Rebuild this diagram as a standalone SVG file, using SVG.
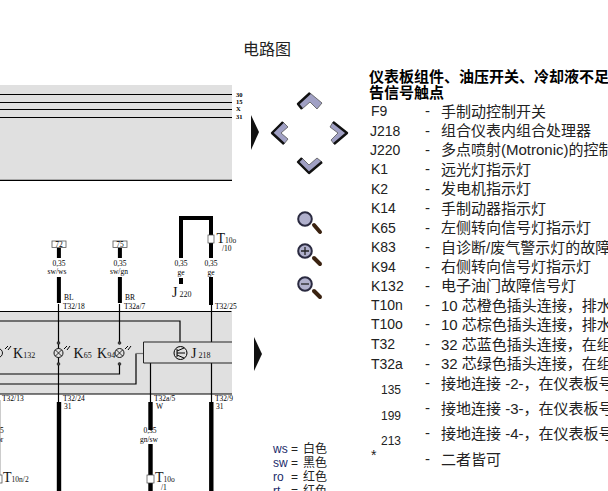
<svg xmlns="http://www.w3.org/2000/svg" width="608" height="491" viewBox="0 0 608 491">
<style>
.s{font-family:"Liberation Serif",serif;fill:#000;font-size:7.5px}
.r{font-family:"Liberation Serif",serif;fill:#000;font-size:6.5px;font-weight:700}
.b{font-family:"Liberation Serif",serif;fill:#111;font-size:14px}
.t{font-family:"Liberation Sans","Noto Sans CJK SC",sans-serif;font-size:15px;fill:#222}
.l{font-size:14px}
.n{font-size:12px}
.h{font-family:"Liberation Sans","Noto Sans CJK SC",sans-serif;font-size:15px;fill:#000;font-weight:700}
.w{stroke:#000;fill:none;stroke-width:1.200}
.w2{stroke:#000;fill:none;stroke-width:4}
.nav{fill:#a0a0c4;stroke:#555;stroke-width:.8}
.edge{fill:none;stroke:#111;stroke-width:2.400;stroke-linejoin:round}
.lens{fill:#b0b0cc;stroke:#2a2a40;stroke-width:2}
.hd{stroke:#3a2210;stroke-width:4;stroke-linecap:round}
.bulb{fill:#e0e0e0;stroke:#000;stroke-width:.9}
.dot{fill:#444;stroke:#000;stroke-width:.5}
</style>
<text x="243" y="55" font-family="'Liberation Sans','Noto Sans CJK SC',sans-serif" font-size="16" fill="#222">电路图</text>
<g id="panel-top">
<rect x="0" y="85" width="232" height="95" fill="#e0e0e0"/>
<path class="w" d="M0 94.500H232M0 102.500H232M0 109.500H232M0 117.500H232M0 180.300H232"/>
<text class="r" x="236" y="96.500">30</text><text class="r" x="236" y="103.500">15</text><text class="r" x="236" y="110.500">X</text><text class="r" x="236" y="119">31</text>
</g>
<g id="panel-mid"><rect x="0" y="312" width="232" height="82" fill="#e0e0e0"/></g>
<g id="connectors">
<path class="w" d="M0 311.500H231.500M0 321H180V342M0 374H119.500V364M0 384H136V353.500M0 394H232M58.500 304V402M119.500 304V343M211.500 304V342M150.500 363V402M211.500 363V402"/>
<path d="M143.500 353.500H136" stroke="#777" stroke-width="1.200"/>
<path d="M0.500 400V476" stroke="#ccc" stroke-width="1"/>
<path class="w2" d="M58.900 248V258M58.900 277V303M119.900 248V258M119.900 277V303M181 284V278M181 258V218H211V235M211 243V258M211 277V305"/>
<path class="w2" style="stroke-width:4.400" d="M59 402V491M150.500 402V430M150.500 444V491M211.300 402V491"/>
</g>
<g id="term-72"><rect x="52" y="241" width="14" height="6.500" fill="#fff" stroke="#555" stroke-width=".8"/><text class="s" x="59" y="247" text-anchor="middle">72</text></g>
<g id="term-75"><rect x="113" y="241" width="14" height="6.500" fill="#fff" stroke="#555" stroke-width=".8"/><text class="s" x="120" y="247" text-anchor="middle">75</text></g>
<g id="wire-labels">
<text class="s" x="59" y="266" text-anchor="middle">0,35</text><text class="s" x="57" y="274" text-anchor="middle">sw/ws</text>
<text class="s" x="120" y="266" text-anchor="middle">0,35</text><text class="s" x="119" y="274" text-anchor="middle">sw/gn</text>
<text class="s" x="181" y="266" text-anchor="middle">0,35</text><text class="s" x="181" y="275" text-anchor="middle">ge</text>
<text class="s" x="211" y="266" text-anchor="middle">0,35</text><text class="s" x="211" y="275" text-anchor="middle">ge</text>
<text class="s" x="64" y="300">BL</text><text class="s" x="63" y="309">T32/18</text>
<text class="s" x="125" y="300">BR</text><text class="s" x="124" y="309">T32a/7</text>
<text class="s" x="215" y="309">T32/25</text>
<text class="s" x="2" y="401">T32/13</text>
<text class="s" x="63" y="401">T32/24</text><text class="s" x="64" y="409">31</text>
<text class="s" x="154" y="401">T32a/5</text><text class="s" x="156" y="409">W</text>
<text class="s" x="215" y="401">T32/9</text><text class="s" x="216" y="409">31</text>
<text class="s" x="150" y="433" text-anchor="middle">0,35</text><text class="s" x="149" y="442" text-anchor="middle">gn/sw</text>
<text class="s" x="0" y="433">5</text><text class="s" x="-3" y="442">or</text>
</g>
<g id="T10o-10"><rect x="208" y="235" width="6" height="8" fill="#fff" stroke="#444" stroke-width=".7"/><text class="b" x="216.500" y="243">T<tspan font-size="7.500">10o</tspan></text><text class="s" x="222" y="251">/10</text></g>
<g id="T10n-2"><rect x="-3" y="475" width="5" height="8" fill="#fff" stroke="#444" stroke-width=".7"/><text class="b" x="3" y="482">T<tspan font-size="7.500">10n/2</tspan></text></g>
<g id="T10o-1"><rect x="147" y="475" width="7" height="8" fill="#fff" stroke="#444" stroke-width=".7"/><text class="b" x="155" y="482">T<tspan font-size="7.500">10o</tspan></text><text class="s" x="161" y="490">/1</text></g>
<g id="J220"><text class="b" x="172" y="297">J<tspan font-size="8"> 220</tspan></text></g>
<g id="K132"><circle class="bulb" cx="-2" cy="353" r="4.500"/><path d="M5 349l3-3M8 350l3-4" stroke="#000" stroke-width="1"/><text class="b" x="13" y="358">K<tspan font-size="8">132</tspan></text></g>
<g id="K65"><circle class="bulb" cx="58.500" cy="353" r="4.500"/><path d="M55.300 349.800L61.700 356.200M61.700 349.800L55.300 356.200" stroke="#000" stroke-width=".8"/><circle class="dot" cx="58.500" cy="343" r="1.400"/><circle class="dot" cx="58.500" cy="364" r="1.400"/><path d="M64 349l3-3M67 350l3-4" stroke="#000" stroke-width="1"/><text class="b" x="73.500" y="358">K<tspan font-size="8">65</tspan></text></g>
<g id="K94"><circle class="bulb" cx="119.500" cy="353" r="4.500"/><path d="M116.300 349.800L122.700 356.200M122.700 349.800L116.300 356.200" stroke="#000" stroke-width=".8"/><circle class="dot" cx="119.500" cy="343" r="1.400"/><circle class="dot" cx="119.500" cy="364" r="1.400"/><path d="M125 349l3-3M128 350l3-4" stroke="#000" stroke-width="1"/><text class="b" x="97" y="358">K<tspan font-size="8">94</tspan></text></g>
<g id="J218"><path d="M232 342H143.500V363H232" fill="none" stroke="#222" stroke-width="1"/><circle cx="180.500" cy="353" r="6.500" fill="none" stroke="#000"/><path d="M177 349V357M177 353H185M177 351L184 348M177 355L184 358" stroke="#000" stroke-width="1" fill="none"/><text class="b" x="191" y="358">J<tspan font-size="8"> 218</tspan></text></g>
<g id="arrow-1"><path d="M251 115L259 132L251 150Z" fill="#111"/></g>
<g id="arrow-2"><path d="M254 337L262 354L254 371Z" fill="#111"/></g>
<g id="nav-up"><path class="nav" d="M298 104L310 93L322 103L317 109L310 102L302 109Z"/><path class="edge" d="M302 109L298 104L310 93"/></g>
<g id="nav-left"><path class="nav" d="M283 122L272 133L284 144L288 139L281 133L288 127Z"/><path class="edge" d="M283 122L272 133L284 144"/></g>
<g id="nav-right"><path class="nav" d="M333 122L347 133L334 144L331 140L338 133L330 127Z"/><path class="edge" d="M333 122L347 133L334 144"/></g>
<g id="nav-down"><path class="nav" d="M298 162L309 173L322 162L317 158L309 165L302 158Z"/><path class="edge" d="M302 158L298 162L309 173L322 162"/></g>
<g id="zoom"><line class="hd" x1="314" y1="225" x2="320" y2="232"/><circle class="lens" cx="305" cy="219" r="6.800"/></g>
<g id="zoom-in"><line class="hd" x1="314" y1="258" x2="320" y2="264"/><circle class="lens" cx="305" cy="251" r="6.800"/><path d="M301 251H309M305 247V255" stroke="#222" stroke-width="1.300"/></g>
<g id="zoom-out"><line class="hd" x1="314" y1="291" x2="320" y2="297"/><circle class="lens" cx="305" cy="284" r="6.800"/><path d="M301 284H309" stroke="#222" stroke-width="1.300"/></g>
<g id="legend-colors" font-family="'Liberation Sans','Noto Sans CJK SC',sans-serif" font-size="12" fill="#222">
<text x="273" y="453" fill="#1a2a6a">ws</text><text x="291" y="453">=</text><text x="303" y="453">白色</text>
<text x="273" y="467" fill="#1a2a6a">sw</text><text x="291" y="467">=</text><text x="303" y="467">黑色</text>
<text x="273" y="481" fill="#1a2a6a">ro</text><text x="291" y="481">=</text><text x="303" y="481">红色</text>
<text x="273" y="495" fill="#1a2a6a">rt</text><text x="291" y="495">=</text><text x="303" y="495">红色</text>
</g>
<g id="legend">
<text class="h" x="369" y="82">仪表板组件、油压开关、冷却液不足</text>
<text class="h" x="369" y="98">告信号触点</text>
<g class="t">
<text class="l" x="371" y="116">F9</text><text x="425" y="116">-</text><text x="441" y="117">手制动控制开关</text>
<text class="l" x="370" y="136">J218</text><text x="425" y="136">-</text><text x="441" y="136">组合仪表内组合处理器</text>
<text class="l" x="370" y="155">J220</text><text x="425" y="155">-</text><text x="441" y="155">多点喷射(Motronic)的控制</text>
<text class="l" x="371" y="174">K1</text><text x="425" y="174">-</text><text x="441" y="175">远光灯指示灯</text>
<text class="l" x="371" y="194">K2</text><text x="425" y="194">-</text><text x="441" y="194">发电机指示灯</text>
<text class="l" x="371" y="213">K14</text><text x="425" y="213">-</text><text x="441" y="214">手制动器指示灯</text>
<text class="l" x="371" y="233">K65</text><text x="425" y="233">-</text><text x="441" y="233">左侧转向信号灯指示灯</text>
<text class="l" x="371" y="252">K83</text><text x="425" y="252">-</text><text x="441" y="253">自诊断/废气警示灯的故障</text>
<text class="l" x="371" y="272">K94</text><text x="425" y="272">-</text><text x="441" y="272">右侧转向信号灯指示灯</text>
<text class="l" x="371" y="291">K132</text><text x="425" y="291">-</text><text x="441" y="291">电子油门故障信号灯</text>
<text class="l" x="371" y="310">T10n</text><text x="425" y="310">-</text><text x="441" y="311">10 芯橙色插头连接，排水</text>
<text class="l" x="371" y="329">T10o</text><text x="425" y="329">-</text><text x="441" y="330">10 芯棕色插头连接，排水</text>
<text class="l" x="371" y="349">T32</text><text x="425" y="349">-</text><text x="441" y="350">32 芯蓝色插头连接，在组</text>
<text class="l" x="371" y="369">T32a</text><text x="425" y="369">-</text><text x="441" y="369">32 芯绿色插头连接，在组</text>
<text class="n" x="381" y="394">135</text><text x="425" y="388">-</text><text x="441" y="389">接地连接 -2-，在仪表板号</text>
<text class="n" x="381" y="420">199</text><text x="425" y="413">-</text><text x="441" y="414">接地连接 -3-，在仪表板号</text>
<text class="n" x="381" y="445">213</text><text x="425" y="438">-</text><text x="441" y="439">接地连接 -4-，在仪表板号</text>
<text class="l" x="371" y="460">*</text><text x="425" y="464">-</text><text x="441" y="465">二者皆可</text>
</g>
</g>
</svg>
